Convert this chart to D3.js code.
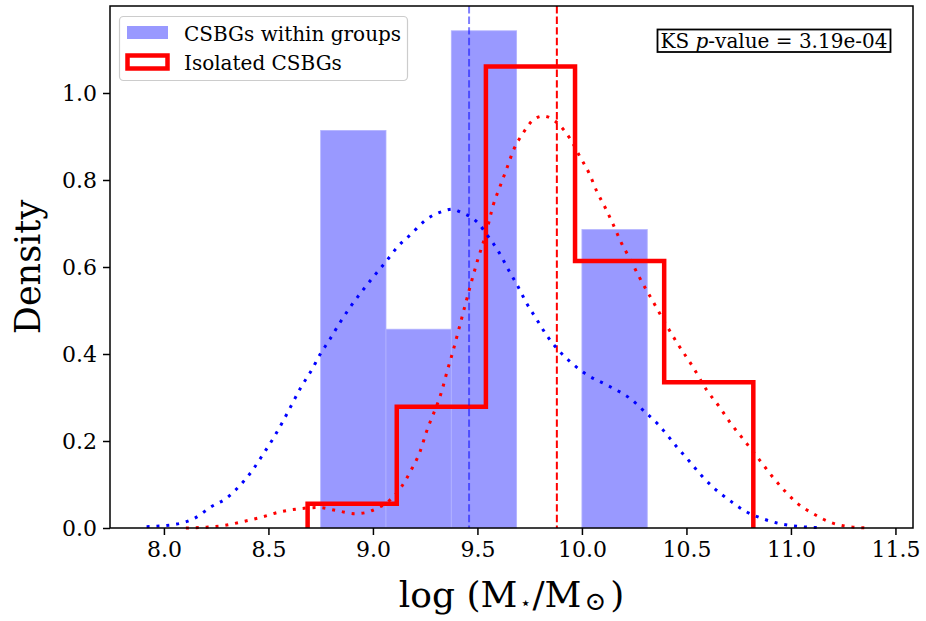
<!DOCTYPE html>
<html>
<head>
<meta charset="utf-8">
<script src="https://cdn.jsdelivr.net/npm/d3@7"></script>
<style>
  body { margin: 0; background: #fff; }
  svg { display: block; font-family: "DejaVu Serif", serif; }
</style>
</head>
<body>
<svg id="chart"></svg>
<script>
// histogram of CSBGs within groups (density)
var groupEdges = [8.75, 9.0625, 9.375, 9.6875, 10.0, 10.3125];
var groupDensity = [0.914, 0.457, 1.143, 0.0, 0.686];

// step histogram of isolated CSBGs (density)
var isoEdges = [8.6875, 9.114, 9.5405, 9.967, 10.3935, 10.82];
var isoDensity = [0.0558, 0.279, 1.061, 0.614, 0.335];

// medians (dashed vertical lines)
var groupMedian = 9.46;
var isoMedian = 9.88;

// kde curves, [logM, density]
var kdeGroup = [
  [7.917, 0.003], [8.061, 0.009], [8.145, 0.022], [8.230, 0.050], [8.298, 0.068],
  [8.364, 0.098], [8.424, 0.133], [8.475, 0.170], [8.523, 0.206], [8.568, 0.244],
  [8.611, 0.283], [8.656, 0.324], [8.702, 0.359], [8.746, 0.398], [8.794, 0.434],
  [8.842, 0.472], [8.893, 0.509], [8.949, 0.545], [9.005, 0.579], [9.062, 0.612],
  [9.121, 0.648], [9.185, 0.677], [9.252, 0.708], [9.333, 0.728], [9.379, 0.733],
  [9.420, 0.726], [9.461, 0.717], [9.499, 0.703], [9.552, 0.670], [9.604, 0.633],
  [9.649, 0.593], [9.694, 0.555], [9.735, 0.517], [9.783, 0.480], [9.834, 0.441],
  [9.887, 0.409], [9.956, 0.377], [10.025, 0.352], [10.110, 0.331], [10.150, 0.321],
  [10.230, 0.298], [10.301, 0.267], [10.365, 0.238], [10.453, 0.187], [10.513, 0.154],
  [10.573, 0.120], [10.636, 0.090], [10.708, 0.063], [10.788, 0.037], [10.867, 0.021],
  [10.956, 0.009], [11.051, 0.003], [11.139, 0.001]
];
var kdeIso = [
  [8.105, 0.000], [8.204, 0.002], [8.292, 0.006], [8.380, 0.015], [8.467, 0.025],
  [8.555, 0.037], [8.643, 0.044], [8.738, 0.047], [8.826, 0.040], [8.914, 0.033],
  [8.962, 0.035], [9.018, 0.045], [9.081, 0.064], [9.137, 0.095], [9.185, 0.135],
  [9.225, 0.175], [9.254, 0.218], [9.333, 0.321], [9.356, 0.362], [9.381, 0.403],
  [9.405, 0.446], [9.429, 0.490], [9.464, 0.553], [9.501, 0.616], [9.541, 0.677],
  [9.576, 0.743], [9.608, 0.785], [9.640, 0.826], [9.671, 0.867], [9.716, 0.906],
  [9.772, 0.940], [9.815, 0.947], [9.891, 0.927], [9.947, 0.892], [9.990, 0.854],
  [10.035, 0.815], [10.070, 0.775], [10.113, 0.735], [10.153, 0.694], [10.188, 0.656],
  [10.233, 0.616], [10.273, 0.578], [10.341, 0.520], [10.408, 0.463], [10.456, 0.425],
  [10.530, 0.371], [10.597, 0.317], [10.657, 0.279], [10.711, 0.241], [10.769, 0.206],
  [10.852, 0.155], [10.908, 0.120], [10.967, 0.087], [11.030, 0.057], [11.110, 0.032],
  [11.195, 0.012], [11.282, 0.003], [11.378, 0.000]
];

var xTicks = [8.0, 8.5, 9.0, 9.5, 10.0, 10.5, 11.0, 11.5];
var yTicks = [0.0, 0.2, 0.4, 0.6, 0.8, 1.0];
var legendLabels = ["CSBGs within groups", "Isolated CSBGs"];
var ksText = "3.19e-04";

var width = 926, height = 621;
var margin = { left: 110, right: 13, top: 6, bottom: 93 };

var svg = d3.select("#chart").attr("width", width).attr("height", height);

var x = d3.scaleLinear().domain([7.742, 11.584]).range([margin.left, width - margin.right]);
var y = d3.scaleLinear().domain([0, 1.2]).range([height - margin.bottom, margin.top]);

// blue density bars
var bars = groupDensity.map(function(d, i) { return { x0: groupEdges[i], x1: groupEdges[i + 1], h: d }; });
svg.append("g").selectAll("rect")
  .data(bars.filter(function(d) { return d.h > 0; }))
  .enter().append("rect")
  .attr("x", function(d) { return x(d.x0); })
  .attr("width", function(d) { return x(d.x1) - x(d.x0); })
  .attr("y", function(d) { return y(d.h); })
  .attr("height", function(d) { return y(0) - y(d.h); })
  .attr("fill", "#9999ff")
  .attr("stroke", "#b3b3ff")
  .attr("stroke-width", 0.8);

// red step outline
var stepPts = [[isoEdges[0], 0]];
isoDensity.forEach(function(d, i) {
  stepPts.push([isoEdges[i], d]);
  stepPts.push([isoEdges[i + 1], d]);
});
stepPts.push([isoEdges[isoEdges.length - 1], 0]);
var line = d3.line().x(function(d) { return x(d[0]); }).y(function(d) { return y(d[1]); });
svg.append("path")
  .attr("d", line(stepPts))
  .attr("fill", "none")
  .attr("stroke", "red")
  .attr("stroke-width", 4.5)
  .attr("stroke-linejoin", "miter");

// median lines
svg.append("line")
  .attr("x1", x(groupMedian)).attr("x2", x(groupMedian))
  .attr("y1", y(1.2)).attr("y2", y(0))
  .attr("stroke", "blue").attr("stroke-opacity", 0.5)
  .attr("stroke-width", 2).attr("stroke-dasharray", "7.4,3.2");
svg.append("line")
  .attr("x1", x(isoMedian)).attr("x2", x(isoMedian))
  .attr("y1", y(1.2)).attr("y2", y(0))
  .attr("stroke", "red")
  .attr("stroke-width", 2).attr("stroke-dasharray", "7.4,3.2");

// kde curves (dotted)
var smooth = d3.line().curve(d3.curveMonotoneX)
  .x(function(d) { return x(d[0]); }).y(function(d) { return y(d[1]); });
svg.append("path").attr("d", smooth(kdeGroup))
  .attr("fill", "none").attr("stroke", "blue")
  .attr("stroke-width", 3).attr("stroke-dasharray", "3,6.9");
svg.append("path").attr("d", smooth(kdeIso))
  .attr("fill", "none").attr("stroke", "red")
  .attr("stroke-width", 3).attr("stroke-dasharray", "3,6.9");

// axes
var xAxis = svg.append("g")
  .attr("transform", "translate(0," + y(0) + ")")
  .call(d3.axisBottom(x).tickValues(xTicks).tickFormat(d3.format(".1f")).tickSizeInner(7).tickSizeOuter(0).tickPadding(6));
var yAxis = svg.append("g")
  .attr("transform", "translate(" + x.range()[0] + ",0)")
  .call(d3.axisLeft(y).tickValues(yTicks).tickFormat(d3.format(".1f")).tickSizeInner(7).tickSizeOuter(0).tickPadding(6));
[xAxis, yAxis].forEach(function(a) {
  a.attr("font-family", null).attr("font-size", null);
  a.select(".domain").remove();
  a.selectAll("line").attr("stroke", "#000").attr("stroke-width", 1.5);
  a.selectAll("text")
    .style("font-family", "'DejaVu Serif', serif")
    .style("font-size", "22px")
    .attr("fill", "#000");
});

// frame
svg.append("rect")
  .attr("x", x.range()[0]).attr("y", y.range()[1])
  .attr("width", x.range()[1] - x.range()[0])
  .attr("height", y.range()[0] - y.range()[1])
  .attr("fill", "none").attr("stroke", "#000").attr("stroke-width", 1.5);

// axis labels
svg.append("text")
  .attr("transform", "translate(40," + (y(0.6)) + ") rotate(-90)")
  .attr("text-anchor", "middle")
  .attr("font-size", 35)
  .text("Density");

var xl = svg.append("text")
  .attr("x", (x.range()[0] + x.range()[1]) / 2)
  .attr("y", 607)
  .attr("text-anchor", "middle")
  .attr("font-size", 36);
xl.append("tspan").text("log (M");
xl.append("tspan").attr("font-size", 18).attr("dy", 2).attr("dx", 3).text("\u22c6");
xl.append("tspan").attr("dy", -2).attr("dx", 1).text("/M");
xl.append("tspan").attr("font-size", 26).attr("dy", 3).attr("dx", 3).text("\u2299");
xl.append("tspan").attr("dy", -3).attr("dx", 4).text(")");

// legend
var lg = svg.append("g");
lg.append("rect")
  .attr("x", 119.5).attr("y", 16.5).attr("width", 288).attr("height", 64)
  .attr("rx", 4).attr("fill", "#fff").attr("fill-opacity", 0.8)
  .attr("stroke", "#cccccc").attr("stroke-width", 1.2);
lg.append("rect")
  .attr("x", 127).attr("y", 26).attr("width", 41).attr("height", 13)
  .attr("fill", "#9999ff");
lg.append("rect")
  .attr("x", 127.5).attr("y", 55.5).attr("width", 40).attr("height", 13)
  .attr("fill", "none").attr("stroke", "red").attr("stroke-width", 4.5);
lg.selectAll("text.leg").data(legendLabels).enter().append("text")
  .attr("class", "leg")
  .attr("x", 184)
  .attr("y", function(d, i) { return 40.5 + i * 29.5; })
  .attr("font-size", 20)
  .text(function(d) { return d; });

// KS p-value box
svg.append("rect")
  .attr("x", 657.5).attr("y", 29.5)
  .attr("width", 233).attr("height", 22.5)
  .attr("fill", "#fff").attr("stroke", "#000").attr("stroke-width", 1.8);
var ks = svg.append("text")
  .attr("x", 774).attr("y", 48)
  .attr("text-anchor", "middle")
  .attr("font-size", 20);
ks.append("tspan").text("KS ");
ks.append("tspan").attr("font-style", "italic").text("p");
ks.append("tspan").text("-value = " + ksText);
</script>
</body>
</html>
